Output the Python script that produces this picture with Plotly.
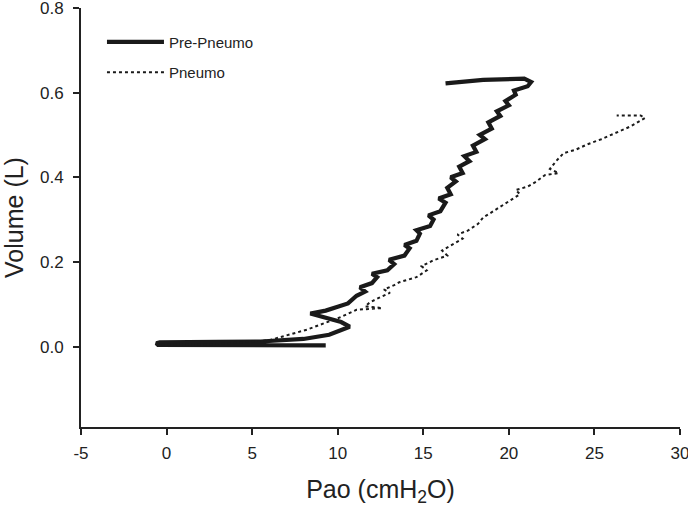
import plotly.graph_objects as go

# Pre-Pneumo (solid) pressure-volume trace
pre_pao = [9.3, 4.0, -0.5, -0.6, -0.4, 3.0, 5.5, 8.0, 9.5, 10.7, 10.2, 8.4, 9.3, 10.0, 10.6, 11.1,
           11.6, 11.3, 12.0, 12.3, 12.0, 12.9, 13.3, 13.0, 13.9, 14.2, 13.9, 14.6, 14.8, 14.6,
           15.4, 15.6, 15.3, 16.0, 16.3, 15.9, 16.6, 16.4, 16.9, 16.6, 17.3, 17.1, 17.7, 17.4,
           18.1, 17.9, 18.6, 18.3, 19.0, 18.8, 19.5, 19.3, 20.0, 19.8, 20.4, 20.3, 21.1, 21.3,
           20.9, 18.5, 16.3]
pre_vol = [0.003, 0.003, 0.004, 0.008, 0.010, 0.011, 0.012, 0.018, 0.028, 0.047, 0.058, 0.078,
           0.085, 0.094, 0.102, 0.120,
           0.130, 0.140, 0.150, 0.164, 0.172, 0.180, 0.195, 0.205, 0.215, 0.232, 0.240, 0.250,
           0.267, 0.275, 0.285, 0.300, 0.310, 0.320, 0.340, 0.350, 0.360, 0.375, 0.390, 0.400,
           0.410, 0.425, 0.438, 0.450, 0.460, 0.475, 0.490, 0.500, 0.515, 0.530, 0.545, 0.556,
           0.570, 0.580, 0.595, 0.605, 0.615, 0.625, 0.633, 0.630, 0.622]

# Pneumo (dotted) pressure-volume trace
pn_pao = [-0.3, 3.0, 6.0, 7.2, 8.2, 9.0, 10.2, 11.1, 12.6, 11.6, 11.9, 12.4, 13.05, 12.7, 13.3,
          13.6, 14.3, 14.6, 15.2, 14.9, 15.6, 16.4, 16.1, 16.7, 17.3, 17.0, 17.6, 18.2, 18.5,
          18.9, 19.5, 19.9, 20.65, 20.4, 21.1, 21.6, 22.1, 22.9, 22.4, 22.8, 23.2, 23.9, 24.6,
          25.4, 26.3, 27.1, 27.95, 27.7, 26.3]
pn_vol = [0.004, 0.006, 0.015, 0.028, 0.040, 0.052, 0.070, 0.087, 0.091, 0.095, 0.105, 0.115,
          0.127, 0.135, 0.145, 0.152, 0.160, 0.164, 0.180, 0.190, 0.204, 0.215, 0.227, 0.240,
          0.255, 0.265, 0.274, 0.290, 0.305, 0.315, 0.330, 0.340, 0.360, 0.370, 0.378, 0.390,
          0.405, 0.410, 0.420, 0.440, 0.457, 0.465, 0.478, 0.490, 0.505, 0.520, 0.540, 0.546,
          0.546]

x_ticks = [-5, 0, 5, 10, 15, 20, 25, 30]
y_ticks = [0.0, 0.2, 0.4, 0.6, 0.8]

FONT = "Liberation Sans, Arial, sans-serif"
INK = "#222222"

fig = go.Figure()
fig.add_trace(go.Scatter(x=pre_pao, y=pre_vol, mode="lines", name="Pre-Pneumo", legendgroup="a",
                         line=dict(color="#1a1a1a", width=4.2)))
fig.add_trace(go.Scatter(x=pn_pao, y=pn_vol, mode="lines", name="Pneumo", legendgroup="b",
                         line=dict(color="#1a1a1a", width=2, dash="dot")))

fig.update_layout(
    width=688, height=507,
    margin=dict(l=81, r=8, t=8, b=80),
    paper_bgcolor="white", plot_bgcolor="white",
    font=dict(family=FONT, color=INK, size=15),
    showlegend=True,
    legend=dict(x=0.035, y=0.958, xanchor="left", yanchor="top",
                bgcolor="rgba(0,0,0,0)", font=dict(size=15, color=INK),
                itemwidth=57, tracegroupgap=8, traceorder="grouped"),
    xaxis=dict(range=[-5, 30], tickvals=x_ticks, ticktext=[str(v) for v in x_ticks],
               showgrid=False, zeroline=False, showline=True, linecolor=INK, linewidth=2,
               ticks="outside", ticklen=6, tickwidth=1.5, tickcolor=INK,
               tickfont=dict(size=17, color=INK), automargin=False,
               ticklabelstandoff=4, ticklabeloverflow="allow",
               title=dict(text="Pao (cmH<sub>2</sub>O)", font=dict(size=25, color=INK), standoff=19)),
    yaxis=dict(range=[-0.19, 0.8], tickvals=y_ticks, ticktext=["%.1f" % v for v in y_ticks],
               showgrid=False, zeroline=False, showline=True, linecolor=INK, linewidth=2,
               ticks="outside", ticklen=6, tickwidth=1.5, tickcolor=INK,
               tickfont=dict(size=17, color=INK), automargin=False,
               ticklabelstandoff=6, ticklabeloverflow="allow",
               title=dict(text="Volume (L)", font=dict(size=25, color=INK), standoff=11)),
)

fig.write_html("out.html", config={"displayModeBar": False},
               post_script="document.body.style.margin='0';")
